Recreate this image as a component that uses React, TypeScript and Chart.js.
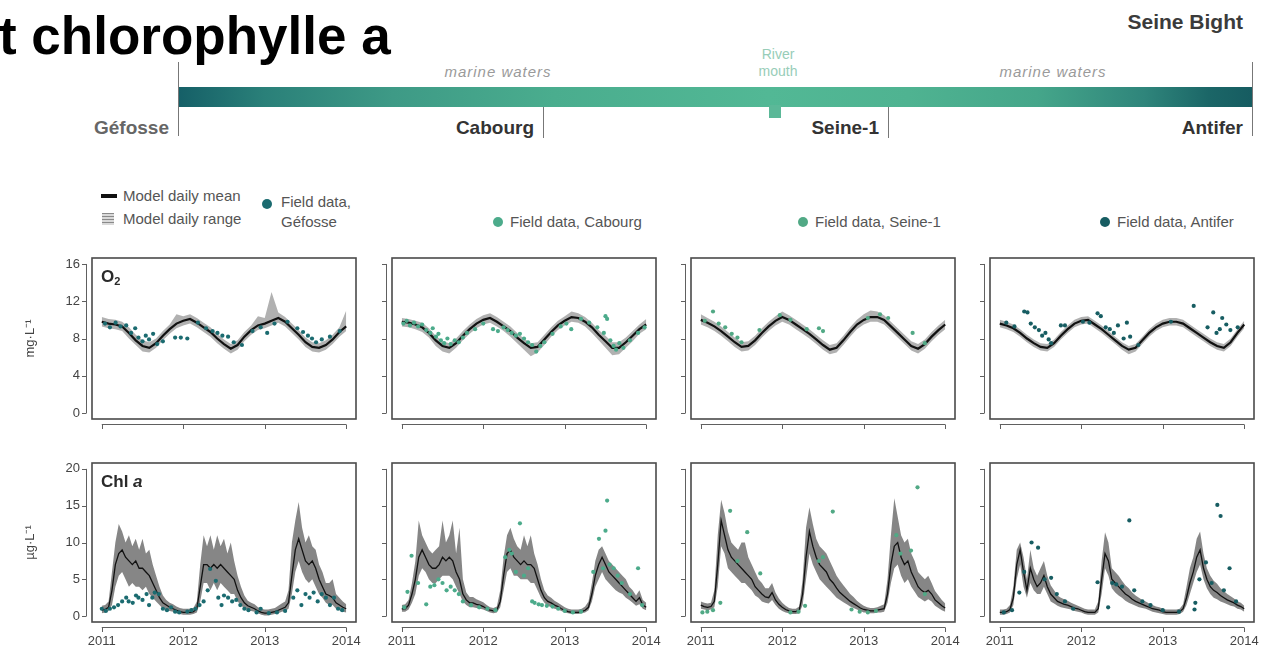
import React, { useEffect, useRef } from "react";
import { Chart, registerables } from "chart.js";

Chart.register(...registerables);

const FONT = '"Liberation Sans", Arial, Helvetica, sans-serif';

// ---- axes ----
const YEAR_TICKS = [2011, 2012, 2013, 2014];
const X_MIN = 2010.88;
const X_MAX = 2014.12;
const O2_TICKS = [0, 4, 8, 12, 16];
const CHL_TICKS = [0, 5, 10, 15, 20];
const O2_RANGE = [-0.64, 16.64];
const CHL_RANGE = [-0.8, 20.8];

// ---- stations ----
const STATIONS = ["Géfosse", "Cabourg", "Seine-1", "Antifer"];
const FIELD_COLORS = ["#1b6b70", "#4cab8b", "#51a985", "#175d62"];

// ---- O2 model (mg/L), monthly samples Jan 2011 .. Jan 2014 ----
const O2_GEF_MEAN = [9.8,9.6,9.5,9.3,8.6,7.8,7.2,7.0,7.5,8.3,9.0,9.6,9.9,10.1,9.7,9.2,8.7,8.0,7.4,6.9,7.3,8.2,8.9,9.4,9.6,9.9,10.2,9.8,9.1,8.4,7.6,7.1,7.0,7.3,7.9,8.7,9.3];
const O2_GEF_HI = [10.3,10.1,10.0,9.8,9.2,8.4,7.8,7.6,8.0,8.8,9.5,10.6,10.4,10.6,10.2,9.7,9.2,8.5,7.9,7.4,7.8,8.7,9.4,10.4,10.2,13.0,10.8,10.3,9.6,8.9,8.1,7.6,7.5,7.8,8.4,9.2,11.0];
const O2_GEF_LO = [9.3,9.1,9.0,8.8,8.0,7.3,6.6,6.5,7.0,7.8,8.5,9.1,9.4,9.6,9.2,8.7,8.2,7.5,6.9,6.4,6.8,7.7,8.4,8.9,9.1,9.4,9.7,9.3,8.6,7.9,7.1,6.6,6.5,6.8,7.4,8.2,8.8];

const O2_CAB_MEAN = [9.8,9.7,9.5,9.2,8.6,7.8,7.2,7.0,7.5,8.3,9.0,9.6,10.0,10.2,9.8,9.3,8.8,8.1,7.5,7.0,7.1,7.9,8.7,9.4,9.9,10.3,10.2,9.8,9.2,8.4,7.7,7.0,7.0,7.6,8.3,9.0,9.5];
const O2_CAB_HI = [10.2,10.1,9.9,9.7,9.1,8.3,7.7,7.5,8.0,8.8,9.5,10.1,10.5,10.7,10.3,9.8,9.3,8.6,8.0,7.5,7.6,8.4,9.2,9.9,10.4,10.9,10.7,10.3,9.7,8.9,8.3,7.6,7.6,8.1,8.8,9.5,10.1];
const O2_CAB_LO = [9.3,9.2,9.0,8.7,8.1,7.2,6.6,6.4,7.0,7.8,8.5,9.1,9.5,9.7,9.3,8.8,8.2,7.5,6.8,6.1,6.5,7.3,8.2,8.9,9.4,9.8,9.7,9.3,8.6,7.8,7.0,6.2,6.3,7.0,7.7,8.5,9.0];

const O2_SEI_MEAN = [10.0,9.7,9.3,8.8,8.2,7.6,7.1,7.2,7.8,8.6,9.3,9.9,10.3,10.0,9.5,9.0,8.5,7.9,7.3,6.8,7.0,7.8,8.7,9.5,10.0,10.3,10.3,10.0,9.3,8.6,7.9,7.2,6.9,7.4,8.2,8.9,9.5];
const O2_SEI_HI = [10.6,10.2,9.8,9.3,8.7,8.1,7.6,7.7,8.3,9.1,9.8,10.4,10.9,10.5,10.0,9.5,9.0,8.4,7.8,7.3,7.5,8.3,9.2,10.0,10.6,11.0,10.9,10.5,9.8,9.1,8.4,7.7,7.4,7.9,8.7,9.4,10.0];
const O2_SEI_LO = [9.5,9.2,8.8,8.3,7.7,7.1,6.6,6.7,7.3,8.1,8.8,9.4,9.8,9.5,9.0,8.5,8.0,7.4,6.8,6.3,6.5,7.3,8.2,9.0,9.5,9.8,9.8,9.5,8.8,8.1,7.4,6.7,6.4,6.9,7.7,8.4,9.0];

const O2_ANT_MEAN = [9.6,9.4,9.1,8.6,8.0,7.5,7.1,7.0,7.5,8.3,9.0,9.6,9.9,10.0,9.5,9.0,8.4,7.8,7.2,6.8,7.0,7.8,8.6,9.2,9.6,9.8,9.8,9.6,9.1,8.6,8.1,7.6,7.2,7.0,7.6,8.6,9.5];
const O2_ANT_HI = [10.0,9.8,9.5,9.0,8.4,7.9,7.5,7.4,7.9,8.7,9.4,10.0,10.3,10.4,9.9,9.4,8.8,8.2,7.6,7.2,7.4,8.2,9.0,9.6,10.0,10.2,10.2,10.0,9.5,9.0,8.5,8.0,7.6,7.4,8.0,9.0,9.9];
const O2_ANT_LO = [9.2,9.0,8.7,8.2,7.6,7.1,6.7,6.6,7.1,7.9,8.6,9.2,9.5,9.6,9.1,8.6,8.0,7.4,6.8,6.3,6.6,7.4,8.2,8.8,9.2,9.4,9.4,9.2,8.7,8.2,7.7,7.2,6.8,6.6,7.2,8.2,9.1];

// ---- Chl a model (ug/L), half-monthly samples Jan 2011 .. Jan 2014 ----
const CHL_GEF_MEAN = [0.8,0.9,1.2,3.5,7.0,8.5,9.0,8.0,7.5,7.0,7.5,6.5,6.5,6.0,5.5,4.5,3.5,2.5,1.8,1.5,1.2,1.0,0.8,0.6,0.5,0.5,0.5,0.6,1.0,4.0,7.0,7.0,6.5,7.0,6.5,7.0,6.5,6.0,5.5,5.0,3.5,2.5,1.8,1.4,1.2,1.0,0.7,0.5,0.4,0.4,0.5,0.6,0.8,1.0,1.2,1.8,5.5,9.0,10.5,9.0,7.5,7.0,7.5,6.5,5.0,4.0,3.0,2.8,2.5,1.8,1.5,1.2,1.0];
const CHL_GEF_HI = [1.4,1.5,2.0,6.0,10.0,12.5,11.5,10.0,11.0,9.5,10.5,9.0,10.5,8.5,9.0,7.0,5.5,4.0,2.8,2.2,1.8,1.6,1.3,1.1,1.0,1.0,1.0,1.1,2.0,7.0,11.0,9.5,11.0,9.0,11.0,9.5,10.5,8.5,10.0,7.5,5.5,4.0,2.8,2.1,1.8,1.6,1.2,1.0,0.9,0.9,1.0,1.1,1.4,1.7,2.0,3.5,10.0,13.0,15.5,12.0,10.0,11.0,9.5,9.0,7.0,6.0,4.5,4.5,5.0,3.0,2.5,2.0,1.6];
const CHL_GEF_LO = [0.4,0.5,0.7,1.5,4.0,5.5,6.0,5.0,4.0,4.5,4.0,4.0,3.5,4.0,3.0,2.5,2.0,1.5,1.0,0.8,0.7,0.6,0.4,0.3,0.2,0.2,0.2,0.3,0.5,2.0,4.5,4.5,3.5,4.5,3.5,4.5,4.0,3.5,3.0,3.0,2.0,1.5,1.0,0.8,0.7,0.6,0.4,0.2,0.1,0.1,0.2,0.3,0.4,0.6,0.7,1.0,3.0,6.0,7.5,6.0,5.0,4.5,5.0,4.0,3.0,2.5,1.8,1.5,1.5,1.0,0.8,0.6,0.5];

const CHL_CAB_MEAN = [1.0,1.0,1.5,3.0,5.0,8.0,9.0,8.0,7.0,6.5,6.5,7.0,8.0,7.5,8.0,7.5,6.0,5.0,3.0,2.2,1.8,1.8,1.6,1.5,1.3,1.0,0.8,0.7,0.8,2.0,5.5,8.5,9.0,8.0,7.5,7.0,7.5,7.0,7.0,6.5,5.0,3.5,2.5,2.0,1.8,1.5,1.3,1.0,0.8,0.6,0.5,0.5,0.5,0.6,0.8,1.2,3.0,5.5,7.0,8.0,7.0,6.0,5.5,5.0,4.5,4.0,3.5,3.0,2.5,2.0,2.5,1.5,1.2];
const CHL_CAB_HI = [1.5,1.6,2.2,4.5,7.5,13.0,11.0,10.0,9.0,8.5,9.0,9.5,13.0,10.0,11.0,13.0,8.5,12.0,5.0,3.2,2.6,2.6,2.3,2.1,1.9,1.5,1.2,1.1,1.3,3.5,8.0,11.0,12.0,10.5,9.5,9.0,11.0,9.5,11.0,8.5,7.0,5.0,3.5,2.8,2.5,2.1,1.8,1.5,1.2,1.0,0.9,0.9,0.9,1.0,1.3,2.0,4.5,7.5,9.0,9.5,8.5,7.5,7.0,6.5,6.0,5.5,5.0,4.0,3.5,2.8,3.5,2.2,1.8];
const CHL_CAB_LO = [0.6,0.6,0.9,1.8,3.0,5.5,6.5,6.0,5.0,4.5,4.5,5.0,5.5,5.5,5.5,5.0,4.0,3.0,2.0,1.5,1.2,1.2,1.1,1.0,0.9,0.7,0.5,0.4,0.5,1.2,3.5,6.0,6.5,5.5,5.5,5.0,5.0,5.0,4.5,4.5,3.5,2.5,1.8,1.4,1.2,1.0,0.9,0.7,0.5,0.4,0.3,0.3,0.3,0.4,0.5,0.8,2.0,4.0,5.0,6.0,5.0,4.5,4.0,3.5,3.2,3.0,2.5,2.2,1.8,1.4,1.6,1.0,0.8];

const CHL_SEI_MEAN = [1.5,1.3,1.2,1.3,2.0,7.0,13.0,11.0,9.0,8.0,7.5,7.0,6.5,6.0,5.5,5.0,4.0,3.5,3.0,2.6,2.5,3.2,2.2,1.6,1.2,0.9,0.7,0.6,0.6,0.8,3.0,8.0,11.5,9.5,8.0,7.0,6.5,6.0,5.0,4.5,3.8,3.2,2.8,2.4,2.0,1.7,1.4,1.1,0.9,0.8,0.7,0.7,0.8,0.9,1.0,3.0,7.0,9.5,10.0,8.0,7.0,7.5,6.0,5.0,4.0,3.5,3.2,3.5,3.0,2.2,1.8,1.4,1.1];
const CHL_SEI_HI = [2.0,1.8,1.7,1.8,3.5,11.0,15.8,14.0,11.5,10.0,9.5,9.0,10.0,10.0,8.0,7.0,6.0,5.0,4.5,3.8,3.8,4.5,3.2,2.4,1.8,1.4,1.1,1.0,1.0,1.3,5.0,12.0,14.8,12.5,10.5,9.5,9.0,8.5,7.5,6.5,5.5,4.8,4.2,3.6,3.0,2.6,2.1,1.7,1.4,1.2,1.1,1.1,1.2,1.4,1.6,5.0,11.0,16.0,13.5,11.0,10.0,10.5,8.5,7.5,6.0,5.5,5.0,5.5,4.5,3.4,2.8,2.2,1.7];
const CHL_SEI_LO = [1.0,0.9,0.8,0.9,1.2,4.0,9.5,8.5,6.5,6.0,5.5,5.0,4.5,4.5,4.0,3.5,2.8,2.5,2.0,1.8,1.7,2.2,1.5,1.0,0.7,0.5,0.4,0.3,0.3,0.4,1.5,5.0,8.5,7.0,6.0,5.0,4.5,4.0,3.5,3.0,2.5,2.2,1.9,1.6,1.3,1.1,0.9,0.7,0.5,0.5,0.4,0.4,0.5,0.5,0.6,1.8,4.5,6.5,7.0,5.5,4.5,5.0,4.0,3.3,2.6,2.3,2.0,2.3,2.0,1.4,1.1,0.8,0.6];

const CHL_ANT_MEAN = [0.5,0.5,0.6,0.9,2.5,7.0,9.0,6.0,3.5,6.5,5.0,4.0,4.5,5.5,4.0,3.0,2.5,2.0,1.8,1.6,1.5,1.3,1.1,1.0,0.8,0.6,0.5,0.5,0.5,1.0,5.0,8.5,7.5,5.0,4.5,4.0,3.5,3.0,2.7,2.3,2.0,1.8,1.6,1.4,1.2,1.0,0.9,0.8,0.6,0.5,0.5,0.5,0.5,0.6,1.0,2.5,4.5,6.0,8.0,9.0,6.5,5.0,4.0,3.5,3.2,2.8,2.5,2.2,2.0,1.8,1.5,1.3,1.0];
const CHL_ANT_HI = [0.9,0.9,1.0,1.5,4.0,9.0,10.0,8.0,5.0,9.0,6.5,5.5,6.5,7.5,5.5,4.2,3.5,2.8,2.5,2.3,2.1,1.8,1.6,1.4,1.2,1.0,0.9,0.9,0.9,2.0,7.5,11.4,10.0,6.5,6.0,5.5,4.8,4.2,3.8,3.2,2.8,2.5,2.2,2.0,1.7,1.5,1.3,1.2,1.0,0.9,0.9,0.9,0.9,1.0,1.6,4.0,6.5,8.0,10.5,11.5,8.5,6.5,5.5,4.8,4.4,3.8,3.4,3.0,2.7,2.4,2.0,1.8,1.4];
const CHL_ANT_LO = [0.2,0.2,0.3,0.5,1.5,5.0,7.0,4.0,2.5,4.5,3.5,3.0,3.0,4.0,3.0,2.0,1.7,1.4,1.2,1.1,1.0,0.9,0.7,0.6,0.5,0.3,0.2,0.2,0.2,0.5,3.0,6.5,5.5,3.8,3.2,2.8,2.5,2.1,1.8,1.6,1.4,1.2,1.1,1.0,0.8,0.6,0.5,0.4,0.3,0.2,0.2,0.2,0.2,0.3,0.6,1.5,3.0,4.5,6.0,7.0,5.0,3.8,3.0,2.5,2.3,2.0,1.8,1.6,1.4,1.3,1.0,0.9,0.6];

// ---- field observations: [decimal year, value] ----
const O2_GEF_FIELD = [[2011.04,9.6],[2011.1,9.2],[2011.17,9.7],[2011.23,9.3],[2011.3,9.4],[2011.36,8.6],[2011.41,9.1],[2011.45,8.1],[2011.5,7.7],[2011.54,8.3],[2011.58,7.9],[2011.63,8.5],[2011.68,7.4],[2011.75,7.7],[2011.9,8.1],[2011.97,8.1],[2012.05,8.0],[2012.18,9.7],[2012.28,9.1],[2012.36,8.8],[2012.42,8.6],[2012.48,8.3],[2012.55,8.2],[2012.62,7.6],[2012.72,7.3],[2012.85,8.8],[2012.95,9.2],[2013.03,8.6],[2013.12,9.6],[2013.28,9.8],[2013.4,9.1],[2013.47,8.7],[2013.53,8.3],[2013.58,8.0],[2013.63,7.6],[2013.7,7.9],[2013.8,8.2],[2013.92,8.8]];
const O2_CAB_FIELD = [[2011.02,9.6],[2011.06,9.9],[2011.1,9.4],[2011.15,9.7],[2011.2,9.3],[2011.25,9.5],[2011.3,8.9],[2011.35,8.6],[2011.38,9.1],[2011.42,8.2],[2011.45,8.5],[2011.48,7.8],[2011.52,7.5],[2011.56,8.0],[2011.6,7.4],[2011.65,7.8],[2011.7,7.6],[2011.75,8.1],[2011.8,8.6],[2011.9,9.0],[2012.0,9.6],[2012.12,9.0],[2012.18,8.8],[2012.25,9.2],[2012.3,8.9],[2012.35,8.6],[2012.4,8.3],[2012.45,8.5],[2012.5,8.0],[2012.55,7.6],[2012.6,7.3],[2012.65,6.6],[2012.7,7.2],[2012.75,7.6],[2012.85,8.5],[2012.95,9.3],[2013.02,9.6],[2013.08,9.0],[2013.2,10.1],[2013.3,9.7],[2013.4,9.2],[2013.48,8.6],[2013.5,10.4],[2013.52,10.1],[2013.56,7.8],[2013.6,7.2],[2013.63,6.8],[2013.67,7.5],[2013.72,7.0],[2013.8,7.8],[2013.9,8.6],[2013.98,9.2]];
const O2_SEI_FIELD = [[2011.05,9.9],[2011.15,10.9],[2011.22,9.6],[2011.3,9.2],[2011.38,8.5],[2011.45,8.1],[2011.5,7.6],[2011.72,8.9],[2011.97,10.5],[2012.1,10.0],[2012.3,9.0],[2012.45,9.1],[2012.5,8.8],[2013.05,10.2],[2013.2,10.6],[2013.3,10.2],[2013.6,8.6],[2013.75,7.5]];
const O2_ANT_FIELD = [[2011.08,9.7],[2011.18,9.3],[2011.3,10.9],[2011.34,10.8],[2011.38,9.6],[2011.43,9.2],[2011.48,8.9],[2011.52,8.3],[2011.56,8.6],[2011.6,7.9],[2011.63,7.5],[2011.75,9.4],[2011.8,9.4],[2012.02,9.8],[2012.1,9.7],[2012.2,10.7],[2012.24,10.4],[2012.3,9.2],[2012.35,9.0],[2012.4,8.6],[2012.45,9.4],[2012.52,8.0],[2012.56,9.7],[2012.6,8.2],[2012.7,7.3],[2013.1,9.8],[2013.38,11.5],[2013.55,9.2],[2013.62,10.8],[2013.66,8.6],[2013.7,9.0],[2013.73,10.2],[2013.78,9.5],[2013.83,8.9],[2013.92,9.2]];

const CHL_GEF_FIELD = [[2011.0,1.0],[2011.05,0.7],[2011.1,1.0],[2011.15,1.2],[2011.2,1.5],[2011.25,2.0],[2011.3,2.5],[2011.33,2.0],[2011.38,1.8],[2011.42,2.8],[2011.45,2.5],[2011.5,2.2],[2011.55,3.0],[2011.58,1.5],[2011.62,2.5],[2011.65,3.2],[2011.7,3.0],[2011.75,1.0],[2011.8,0.8],[2011.85,1.2],[2011.9,0.6],[2011.95,0.5],[2012.05,0.6],[2012.1,0.8],[2012.15,1.0],[2012.2,1.5],[2012.25,2.0],[2012.3,3.5],[2012.33,6.4],[2012.4,4.8],[2012.43,2.5],[2012.47,1.5],[2012.5,2.8],[2012.55,2.5],[2012.6,2.0],[2012.65,2.2],[2012.7,1.5],[2012.75,1.0],[2012.8,0.8],[2012.9,0.5],[2012.95,1.0],[2013.05,0.4],[2013.15,0.5],[2013.25,0.7],[2013.35,2.5],[2013.4,3.5],[2013.45,1.5],[2013.5,3.0],[2013.55,2.5],[2013.6,3.2],[2013.65,2.0],[2013.7,3.0],[2013.75,2.5],[2013.8,1.5],[2013.85,2.5],[2013.9,1.0],[2013.95,0.8]];
const CHL_CAB_FIELD = [[2011.03,1.2],[2011.07,3.3],[2011.12,8.2],[2011.2,4.5],[2011.3,1.6],[2011.35,4.0],[2011.4,4.2],[2011.45,5.0],[2011.5,4.5],[2011.55,3.5],[2011.6,4.0],[2011.65,3.5],[2011.7,3.0],[2011.75,2.0],[2011.85,1.5],[2011.95,1.2],[2012.05,1.0],[2012.15,0.8],[2012.27,8.0],[2012.32,9.0],[2012.35,8.5],[2012.4,6.0],[2012.45,12.6],[2012.5,5.5],[2012.55,6.5],[2012.6,2.0],[2012.63,1.8],[2012.68,1.6],[2012.72,1.5],[2012.78,1.4],[2012.85,1.3],[2012.92,1.0],[2013.0,0.7],[2013.1,0.5],[2013.2,0.6],[2013.35,6.0],[2013.42,10.5],[2013.47,6.5],[2013.5,11.6],[2013.52,15.7],[2013.55,7.0],[2013.6,6.5],[2013.65,5.5],[2013.7,4.5],[2013.8,3.0],[2013.9,6.5],[2013.95,1.5]];
const CHL_SEI_FIELD = [[2011.02,0.5],[2011.08,0.6],[2011.15,0.8],[2011.24,1.8],[2011.36,14.3],[2011.45,7.5],[2011.57,11.4],[2011.73,5.8],[2012.1,0.5],[2012.2,0.6],[2012.28,1.4],[2012.45,7.5],[2012.5,8.0],[2012.62,14.2],[2012.85,0.9],[2012.95,0.6],[2013.05,0.5],[2013.15,0.7],[2013.4,11.0],[2013.45,8.5],[2013.58,8.9],[2013.66,17.5],[2013.75,3.0]];
const CHL_ANT_FIELD = [[2011.05,0.5],[2011.15,0.8],[2011.24,3.2],[2011.3,6.0],[2011.39,10.0],[2011.47,9.3],[2011.55,5.0],[2011.63,5.2],[2011.7,3.0],[2011.8,2.0],[2011.9,1.0],[2012.2,4.6],[2012.33,1.2],[2012.38,4.5],[2012.43,4.3],[2012.5,4.0],[2012.59,13.0],[2012.65,3.5],[2012.75,2.0],[2012.85,1.5],[2013.0,0.8],[2013.2,0.6],[2013.39,0.9],[2013.4,1.8],[2013.45,5.0],[2013.53,7.3],[2013.6,4.5],[2013.67,15.1],[2013.71,13.6],[2013.75,3.5],[2013.82,6.5],[2013.9,2.0]];

// ---- panel geometry ----
const COL_LEFT = [92, 392, 691, 990];
const BOX_W = 264;
const ROW_TOP = [258, 463];
const BOX_H = [161, 159];

const PANELS = [
  { row: 0, col: 0, step: 1 / 12, mean: O2_GEF_MEAN, hi: O2_GEF_HI, lo: O2_GEF_LO, field: O2_GEF_FIELD },
  { row: 0, col: 1, step: 1 / 12, mean: O2_CAB_MEAN, hi: O2_CAB_HI, lo: O2_CAB_LO, field: O2_CAB_FIELD },
  { row: 0, col: 2, step: 1 / 12, mean: O2_SEI_MEAN, hi: O2_SEI_HI, lo: O2_SEI_LO, field: O2_SEI_FIELD },
  { row: 0, col: 3, step: 1 / 12, mean: O2_ANT_MEAN, hi: O2_ANT_HI, lo: O2_ANT_LO, field: O2_ANT_FIELD },
  { row: 1, col: 0, step: 1 / 24, mean: CHL_GEF_MEAN, hi: CHL_GEF_HI, lo: CHL_GEF_LO, field: CHL_GEF_FIELD },
  { row: 1, col: 1, step: 1 / 24, mean: CHL_CAB_MEAN, hi: CHL_CAB_HI, lo: CHL_CAB_LO, field: CHL_CAB_FIELD },
  { row: 1, col: 2, step: 1 / 24, mean: CHL_SEI_MEAN, hi: CHL_SEI_HI, lo: CHL_SEI_LO, field: CHL_SEI_FIELD },
  { row: 1, col: 3, step: 1 / 24, mean: CHL_ANT_MEAN, hi: CHL_ANT_HI, lo: CHL_ANT_LO, field: CHL_ANT_FIELD },
];

// Box around the plotting region plus offset axis lines with outward ticks
const framePlugin = {
  id: "frame",
  afterDraw(chart: any, _args: any, opts: any) {
    const { ctx, chartArea: a, scales } = chart;
    const xs = scales.x;
    const ys = scales.y;
    ctx.save();
    ctx.strokeStyle = "#4a4a4a";
    ctx.lineWidth = 1.6;
    ctx.strokeRect(a.left, a.top, a.right - a.left, a.bottom - a.top);
    ctx.strokeStyle = "#606060";
    ctx.lineWidth = 1;
    ctx.beginPath();
    const ax = Math.round(a.left) - 5.5;
    const yt: number[] = opts.yTicks;
    ctx.moveTo(ax, ys.getPixelForValue(yt[0]));
    ctx.lineTo(ax, ys.getPixelForValue(yt[yt.length - 1]));
    yt.forEach((v) => {
      const py = Math.round(ys.getPixelForValue(v)) + 0.5;
      ctx.moveTo(ax - 4.5, py);
      ctx.lineTo(ax, py);
    });
    const ay = Math.round(a.bottom) + 5.5;
    const xt: number[] = opts.xTicks;
    ctx.moveTo(xs.getPixelForValue(xt[0]), ay);
    ctx.lineTo(xs.getPixelForValue(xt[xt.length - 1]), ay);
    xt.forEach((v) => {
      const px = Math.round(xs.getPixelForValue(v)) + 0.5;
      ctx.moveTo(px, ay);
      ctx.lineTo(px, ay + 4.5);
    });
    ctx.stroke();
    ctx.restore();
  },
};

function Panel({ spec }: { spec: any }) {
  const ref = useRef<HTMLCanvasElement>(null);
  const { row, col } = spec;
  // margins are kept wider than any label overhang so the plot box lands exactly
  const L = col === 0 ? 72 : 26;
  const T = 26;
  const R = 26;
  const B = row === 1 ? 34 : 26;
  const W = BOX_W + L + R;
  const H = BOX_H[row] + T + B;

  useEffect(() => {
    const isO2 = row === 0;
    const yTicks = isO2 ? O2_TICKS : CHL_TICKS;
    const yRange = isO2 ? O2_RANGE : CHL_RANGE;
    const series = (arr: number[]) => arr.map((v, i) => ({ x: 2011 + i * spec.step, y: v }));
    const chart = new Chart(ref.current as HTMLCanvasElement, {
      type: "line",
      data: {
        datasets: [
          {
            data: spec.field.map(([x, y]: number[]) => ({ x, y })),
            showLine: false,
            pointRadius: 2.1,
            pointBackgroundColor: FIELD_COLORS[col],
            pointBorderWidth: 0,
            order: 0,
          },
          {
            data: series(spec.mean),
            borderColor: "#111",
            borderWidth: isO2 ? 2.2 : 1.3,
            pointRadius: 0,
            fill: false,
            order: 1,
          },
          {
            data: series(spec.hi),
            borderColor: "rgba(0,0,0,0)",
            borderWidth: 0,
            pointRadius: 0,
            backgroundColor: isO2 ? "rgba(60,60,60,0.4)" : "rgba(35,35,35,0.55)",
            fill: "+1",
            order: 2,
          },
          {
            data: series(spec.lo),
            borderColor: "rgba(0,0,0,0)",
            borderWidth: 0,
            pointRadius: 0,
            fill: false,
            order: 3,
          },
        ],
      } as any,
      options: {
        animation: false,
        responsive: false,
        events: [],
        layout: { padding: { top: T, right: R, left: 0, bottom: 0 } },
        plugins: {
          legend: { display: false },
          tooltip: { enabled: false },
          frame: { xTicks: YEAR_TICKS, yTicks },
        } as any,
        scales: {
          x: {
            type: "linear",
            min: X_MIN,
            max: X_MAX,
            grid: { display: false, drawTicks: false },
            border: { display: false },
            afterBuildTicks: (s: any) => {
              s.ticks = YEAR_TICKS.map((v) => ({ value: v }));
            },
            afterFit: (s: any) => {
              s.height = B;
            },
            ticks: {
              display: row === 1,
              autoSkip: false,
              maxRotation: 0,
              padding: 12,
              color: "#444",
              font: { family: FONT, size: 13 },
              callback: (v: any) => String(v),
            },
          },
          y: {
            type: "linear",
            min: yRange[0],
            max: yRange[1],
            grid: { display: false, drawTicks: false },
            border: { display: false },
            afterBuildTicks: (s: any) => {
              s.ticks = yTicks.map((v) => ({ value: v }));
            },
            afterFit: (s: any) => {
              s.width = L;
            },
            ticks: {
              display: col === 0,
              padding: 12,
              color: "#444",
              font: { family: FONT, size: 13 },
              callback: (v: any) => String(v),
            },
            title: {
              display: col === 0,
              text: isO2 ? "mg·L⁻¹" : "µg·L⁻¹",
              color: "#444",
              font: { family: FONT, size: 13 },
              padding: { top: 3, bottom: 0 },
            },
          },
        },
      } as any,
      plugins: [framePlugin as any],
    });
    return () => chart.destroy();
  }, []);

  const boxLeft = COL_LEFT[col];
  const boxTop = ROW_TOP[row];
  return (
    <>
      <canvas
        ref={ref}
        width={W}
        height={H}
        style={{ position: "absolute", left: boxLeft - L, top: boxTop - T, width: W, height: H }}
      />
      {col === 0 && (
        <div
          style={{
            position: "absolute",
            left: boxLeft + 9,
            top: boxTop + 9,
            font: `bold 17px ${FONT}`,
            color: "#2a2a2a",
            whiteSpace: "nowrap",
            lineHeight: "20px",
          }}
        >
          {row === 0 ? (
            <>
              O<sub style={{ fontSize: 11, verticalAlign: "-3px" }}>2</sub>
            </>
          ) : (
            <>
              Chl <i>a</i>
            </>
          )}
        </div>
      )}
    </>
  );
}

const SITE_MARKS = [
  { name: STATIONS[0], x: 178, color: "#666", long: true },
  { name: STATIONS[1], x: 543, color: "#333", long: false },
  { name: STATIONS[2], x: 888, color: "#333", long: false },
  { name: STATIONS[3], x: 1252, color: "#333", long: true },
];

const LEGEND_SITES = [
  { name: STATIONS[1], dot: 498, color: FIELD_COLORS[1] },
  { name: STATIONS[2], dot: 803, color: FIELD_COLORS[2] },
  { name: STATIONS[3], dot: 1105, color: FIELD_COLORS[3] },
];

export default function App() {
  const abs = (s: React.CSSProperties): React.CSSProperties => ({ position: "absolute", whiteSpace: "nowrap", ...s });
  return (
    <div
      style={{
        position: "absolute",
        left: 0,
        top: 0,
        width: 1282,
        height: 651,
        overflow: "hidden",
        background: "#fff",
        fontFamily: FONT,
      }}
    >
      {/* heading */}
      <div style={abs({ left: -1, top: 9, font: `bold 53px ${FONT}`, lineHeight: "53px", color: "#000" })}>
        t chlorophylle a
      </div>
      <div style={abs({ right: 39, top: 11, font: `bold 21px ${FONT}`, lineHeight: "21px", color: "#3b3b3b" })}>
        Seine Bight
      </div>

      {/* coastal gradient strip */}
      <div
        style={abs({
          left: 178,
          top: 87,
          width: 1074,
          height: 20,
          background:
            "linear-gradient(to right, #155f67 0%, #2a8079 8%, #3e9a86 20%, #4aad8e 35%, #52b895 55%, #4fb391 68%, #45a68a 80%, #2f857b 90%, #1b6667 96%, #165c61 100%)",
        })}
      />
      <div style={abs({ left: 769, top: 105, width: 12, height: 13, background: "#5bb898" })} />
      {SITE_MARKS.map((m) => (
        <React.Fragment key={m.name}>
          <div
            style={abs({
              left: m.x,
              top: m.long ? 62 : 107,
              width: 1,
              height: m.long ? 74 : 31,
              background: "#777",
            })}
          />
          <div
            style={abs({
              right: 1282 - m.x + 9,
              top: 118,
              font: `bold 19px ${FONT}`,
              lineHeight: "20px",
              color: m.color,
            })}
          >
            {m.name}
          </div>
        </React.Fragment>
      ))}
      <div style={abs({ left: 440, top: 63, width: 116, textAlign: "center", font: `italic 15px ${FONT}`, letterSpacing: 1, color: "#9a9a9a" })}>
        marine waters
      </div>
      <div style={abs({ left: 985, top: 63, width: 136, textAlign: "center", font: `italic 15px ${FONT}`, letterSpacing: 1, color: "#9a9a9a" })}>
        marine waters
      </div>
      <div
        style={abs({
          left: 748,
          top: 46,
          width: 60,
          textAlign: "center",
          font: `14px ${FONT}`,
          lineHeight: "17px",
          color: "#98cdb8",
          whiteSpace: "normal",
        })}
      >
        River
        <br />
        mouth
      </div>

      {/* legend */}
      <div style={abs({ left: 101, top: 194, width: 16, height: 4, background: "#111" })} />
      <div
        style={abs({
          left: 102,
          top: 213,
          width: 12,
          height: 12,
          background: "repeating-linear-gradient(to bottom, #8a8a8a 0px, #8a8a8a 1px, #d9d9d9 1px, #d9d9d9 3px)",
        })}
      />
      <div style={abs({ left: 123, top: 187, font: `15px ${FONT}`, lineHeight: "18px", color: "#555" })}>Model daily mean</div>
      <div style={abs({ left: 123, top: 210, font: `15px ${FONT}`, lineHeight: "18px", color: "#555" })}>Model daily range</div>
      <div style={abs({ left: 262, top: 199, width: 10, height: 10, borderRadius: 5, background: FIELD_COLORS[0] })} />
      <div style={abs({ left: 281, top: 192, font: `15px ${FONT}`, lineHeight: "20px", color: "#555" })}>
        Field data,
        <br />
        {STATIONS[0]}
      </div>
      {LEGEND_SITES.map((s) => (
        <React.Fragment key={s.name}>
          <div style={abs({ left: s.dot - 5, top: 217, width: 10, height: 10, borderRadius: 5, background: s.color })} />
          <div style={abs({ left: s.dot + 12, top: 213, font: `15px ${FONT}`, lineHeight: "18px", color: "#555" })}>
            Field data, {s.name}
          </div>
        </React.Fragment>
      ))}

      {PANELS.map((p) => (
        <Panel key={`${p.row}-${p.col}`} spec={p} />
      ))}
    </div>
  );
}
